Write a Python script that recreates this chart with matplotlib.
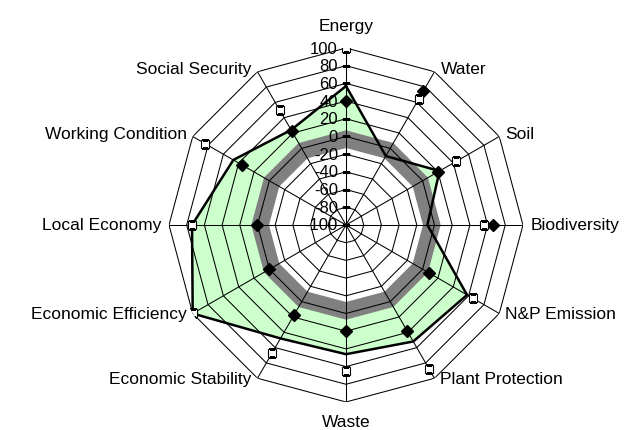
import numpy as np
import matplotlib
matplotlib.use('Agg')
import matplotlib.pyplot as plt

plt.rcParams['font.family'] = ['Liberation Sans', 'DejaVu Sans']

# clockwise from the top
categories = ['Energy', 'Water', 'Soil', 'Biodiversity', 'N&P Emission',
              'Plant Protection', 'Waste', 'Economic Stability',
              'Economic Efficiency', 'Local Economy', 'Working Condition',
              'Social Security']
area_vals = [57, -10, 22, -8, 58, 52, 46, 48, 100, 74, 47, 24]
diamond_vals = [40, 75, 20, 66, 8, 38, 20, 17, 0, 0, 36, 23]
square_vals = [100, 64, 44, 56, 66, 88, 65, 67, 100, 74, 84, 50]
band_outer = 7
band_inner = -13
ticks = list(range(-100, 101, 20))

n = len(categories)
theta = np.arange(n) * 2 * np.pi / n


def closed(v):
    return np.append(v, v[0])


th = closed(theta)

fig = plt.figure(figsize=(6.32, 4.31), dpi=100)
ax = fig.add_axes([0.2674, 0.065, 0.5601, 0.8213], projection='polar')
ax.set_theta_zero_location('N')
ax.set_theta_direction(-1)
ax.set_ylim(-100, 100)
ax.grid(False)
ax.set_xticks([])
ax.set_yticks([])
ax.spines['polar'].set_visible(False)

# filled areas
ax.fill(th, closed(area_vals), color='#ccffcc', lw=0, zorder=1)
ax.fill(th, [band_outer] * (n + 1), color='#808080', lw=0, zorder=2)
ax.fill(th, [band_inner] * (n + 1), color='white', lw=0, zorder=3)

# polygon grid
for r in ticks[1:]:
    ax.plot(th, [r] * (n + 1), color='black', lw=0.75, zorder=4)
for t in theta:
    ax.plot([t, t], [-100, 100], color='black', lw=0.75, zorder=4)

# series
ax.plot(th, closed(area_vals), color='black', lw=1.8, zorder=5)
ax.plot(theta, diamond_vals, ls='none', marker='D', ms=6.5, color='black', zorder=6)
ax.plot(theta, square_vals, ls='none', marker='s', ms=6, mfc='white',
        mec='black', mew=0.8, zorder=7)

# value axis labels
ax.plot([0] * len(ticks), ticks, ls='none', marker='_', ms=6, mew=0.8,
        color='black', zorder=4)
for v in ticks:
    ax.annotate(str(v), xy=(0, v), xytext=(-8, 0), textcoords='offset pixels',
                ha='right', va='center', fontsize=12, zorder=8)

# category labels
for t, name in zip(theta, categories):
    s, c = np.sin(t), np.cos(t)
    if abs(s) < 0.1:
        ha = 'center'
        if c > 0:
            va, off = 'bottom', (0, 15)
        else:
            va, off = 'top', (0, -12)
    else:
        ha = 'left' if s > 0 else 'right'
        va = 'center'
        dx = 8 if abs(c) < 0.1 else 6
        off = (dx * np.sign(s), 3 if c > 0.1 else 0)
    ax.annotate(name, xy=(t, 100), xytext=off, textcoords='offset pixels',
                ha=ha, va=va, fontsize=12.5, annotation_clip=False)

fig.savefig('out.png', dpi=100)
